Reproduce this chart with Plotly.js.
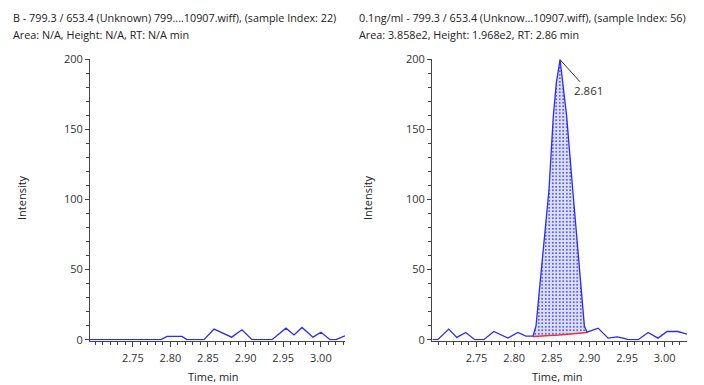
<!DOCTYPE html>
<html>
<head>
<meta charset="utf-8">
<script src="https://cdn.plot.ly/plotly-3.0.1.min.js"></script>
<style>html,body{margin:0;padding:0;background:#fff;}#chart{width:704px;height:385px;}</style>
</head>
<body>
<div id="chart"></div>
<script>
// ---- data ----
const leftTime = [2.6931, 2.7875, 2.7955, 2.8154, 2.8220, 2.8447, 2.8580, 2.8703, 2.8815, 2.8952, 2.9085, 2.9351, 2.9537, 2.9644, 2.9750, 2.9896, 3.0003, 3.0122, 3.0202, 3.0322];
const leftIntensity = [0, 0, 2.3, 2.3, 0, 0, 7.5, 4.4, 1.8, 7.0, 0, 0, 8.2, 3.4, 8.7, 1.8, 5.3, 0, 0, 2.7];

const rightTime = [2.6918, 2.6985, 2.7131, 2.7238, 2.7358, 2.7477, 2.7597, 2.7730, 2.7917, 2.8050, 2.8156, 2.8250, 2.8290, 2.8370, 2.8463, 2.8520, 2.8560, 2.8610, 2.8660, 2.8698, 2.8778, 2.8853, 2.8933, 2.8969, 2.9115, 2.9248, 2.9368, 2.9448, 2.9515, 2.9648, 2.9780, 2.9911, 3.0031, 3.0177, 3.0297];
const rightIntensity = [0, 0, 7.5, 1.6, 5.1, 0, 0, 5.8, 1.1, 5.1, 2.5, 2.5, 9.6, 57, 107, 159, 183, 199.5, 175, 159, 107, 57, 9.8, 5.3, 8.2, 1.1, 2.0, 1.1, 0, 0, 5.1, 1.1, 5.8, 5.8, 3.9];

const peakStart = 2.8250, peakEnd = 2.8969;
const baselineTime = [2.8250, 2.8400, 2.8600, 2.8969];
const baselineIntensity = [2.3, 2.6, 3.4, 5.1];
const apexTime = 2.861, apexIntensity = 199.5, apexLabel = "2.861";

const xTicks = [2.75, 2.80, 2.85, 2.90, 2.95, 3.00];
const xTickText = ["2.75", "2.80", "2.85", "2.90", "2.95", "3.00"];
const yTicks = [0, 50, 100, 150, 200];

const headers = {
  left: ["B - 799.3 / 653.4 (Unknown) 799....10907.wiff), (sample Index: 22)", "Area: N/A, Height: N/A, RT: N/A min"],
  right: ["0.1ng/ml - 799.3 / 653.4 (Unknow...10907.wiff), (sample Index: 56)", "Area: 3.858e2, Height: 1.968e2, RT: 2.86 min"]
};
const xTitle = "Time, min", yTitle = "Intensity";

// ---- peak segment (subset of right trace) ----
const peakT = [], peakI = [];
rightTime.forEach((t, i) => { if (t >= peakStart - 1e-9 && t <= peakEnd + 1e-9) { peakT.push(t); peakI.push(rightIntensity[i]); } });

const W = 704, H = 385;
const px = v => v / W, py = v => 1 - v / H;
const FONT = "Open Sans, Noto Sans, sans-serif";
const lineColor = "#2a2aff";

const traces = [
  {x: leftTime, y: leftIntensity, xaxis: "x", yaxis: "y", mode: "lines", line: {color: lineColor, width: 1.3}, hoverinfo: "skip"},
  {x: baselineTime, y: baselineIntensity, xaxis: "x2", yaxis: "y2", mode: "lines", line: {color: "#ff2a2a", width: 1.5}, hoverinfo: "skip"},
  {x: peakT, y: peakI, xaxis: "x2", yaxis: "y2", mode: "lines", fill: "tonexty", line: {width: 0, color: "rgba(0,0,0,0)"},
   fillcolor: "rgba(0,0,0,0)",
   fillpattern: {shape: ".", fgcolor: "#3c3cf0", bgcolor: "#dde1fb", size: 3.5, solidity: 0.22}, hoverinfo: "skip"},
  {x: rightTime, y: rightIntensity, xaxis: "x2", yaxis: "y2", mode: "lines", line: {color: lineColor, width: 1.3}, hoverinfo: "skip"}
];

const yDomain = [py(340.5), py(59)];
const axisCommon = {
  showgrid: false, zeroline: false, showline: true, linecolor: "#444", linewidth: 1,
  ticks: "outside", tickcolor: "#444", tickfont: {family: FONT, size: 11, color: "#333"}, fixedrange: true
};
function xAxis(domain, range, anchor) {
  return Object.assign({}, axisCommon, {
    domain: domain, range: range, anchor: anchor, tickmode: "array", tickvals: xTicks, ticktext: xTickText,
    ticklen: 5, ticklabelstandoff: 2,
    minor: {tickmode: "linear", tick0: 2.70, dtick: 0.01, ticks: "outside", ticklen: 3, tickcolor: "#444"}
  });
}
function yAxis(range, anchor) {
  return Object.assign({}, axisCommon, {
    domain: yDomain, range: range, anchor: anchor, tickmode: "array", tickvals: yTicks, ticklen: 4,
    minor: {tickmode: "linear", tick0: 0, dtick: 10, ticks: "outside", ticklen: 3, tickcolor: "#444"}
  });
}

const annotations = [];
function txt(x, y, text, opts) {
  annotations.push(Object.assign({xref: "paper", yref: "paper", x: px(x), y: py(y), text: text, showarrow: false,
    xanchor: "left", yanchor: "middle", font: {family: FONT, size: 10.8, color: "#222"}}, opts || {}));
}
txt(11, 17, headers.left[0]); txt(11, 34, headers.left[1]);
txt(357, 17, headers.right[0]); txt(357, 34, headers.right[1]);
txt(22, 198, yTitle, {xanchor: "center", textangle: -90, font: {family: FONT, size: 11, color: "#222"}});
txt(368, 198, yTitle, {xanchor: "center", textangle: -90, font: {family: FONT, size: 11, color: "#222"}});
txt(213, 376, xTitle, {xanchor: "center", font: {family: FONT, size: 11, color: "#222"}});
txt(557, 376, xTitle, {xanchor: "center", font: {family: FONT, size: 11, color: "#222"}});
annotations.push({xref: "x2", yref: "y2", x: apexTime, y: apexIntensity, text: apexLabel, showarrow: true,
  arrowhead: 0, arrowwidth: 1, arrowcolor: "#333", ax: 28, ay: 31, standoff: 0,
  font: {family: FONT, size: 11.5, color: "#333"}});

const layout = {
  width: W, height: H, margin: {l: 0, r: 0, t: 0, b: 0}, showlegend: false,
  paper_bgcolor: "#fff", plot_bgcolor: "#fff",
  xaxis: xAxis([px(90), px(345)], [2.6931, 3.0322], "y"),
  yaxis: yAxis([-0.6, 200], "x"),
  xaxis2: xAxis([px(432), px(687)], [2.6909, 3.0296], "y2"),
  yaxis2: yAxis([-0.6, 200], "x2"),
  annotations: annotations
};

Plotly.newPlot("chart", traces, layout, {staticPlot: true, displayModeBar: false});
</script>
</body>
</html>
